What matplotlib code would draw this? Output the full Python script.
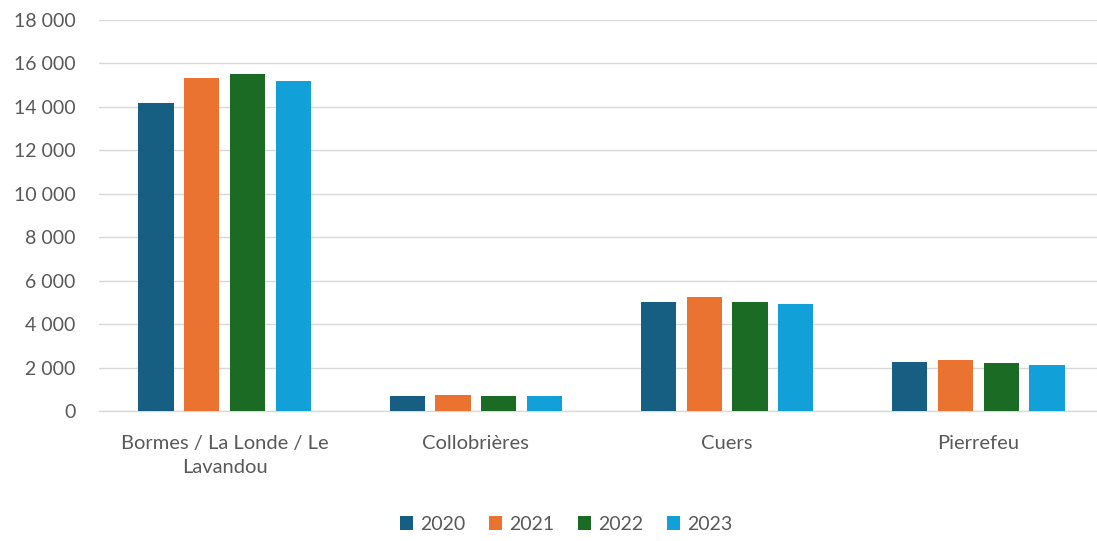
import matplotlib
matplotlib.use("Agg")
import matplotlib.pyplot as plt
import numpy as np
from matplotlib.ticker import FuncFormatter

categories = ["Bormes / La Londe / Le\nLavandou", "Collobrières", "Cuers", "Pierrefeu"]
years = ["2020", "2021", "2022", "2023"]
v2020 = [14170, 700, 5020, 2240]
v2021 = [15350, 750, 5250, 2330]
v2022 = [15520, 700, 5030, 2190]
v2023 = [15180, 690, 4940, 2120]
series = [v2020, v2021, v2022, v2023]
colors = ["#175E83", "#EB7332", "#1B6B25", "#11A0D7"]
text_color = "#595959"

plt.rcParams['font.family'] = ['Lato', 'DejaVu Sans']

W, H = 1097, 541
fig = plt.figure(figsize=(W/100, H/100), dpi=100)
ax = fig.add_axes([99/W, 130/H, 1005/W, 391/H])

x = np.arange(len(categories))
bw = 0.141
step = 0.182
for i, (yr, vals, c) in enumerate(zip(years, series, colors)):
    ax.bar(x + (i - 1.5) * step, vals, width=bw, color=c, label=yr, zorder=3)

ax.set_xlim(-0.5, 3.5)
ax.set_ylim(0, 18000)
ax.set_yticks(np.arange(0, 18001, 2000))
ax.yaxis.set_major_formatter(FuncFormatter(lambda v, p: f"{int(v):,}".replace(",", " ")))
ax.grid(axis='y', color="#D9D9D9", linewidth=1, zorder=0)
for s in ['top', 'right', 'left']:
    ax.spines[s].set_visible(False)
ax.spines['bottom'].set_color("#D9D9D9")
ax.spines['bottom'].set_linewidth(1)
ax.set_xticks(x)
ax.set_xticklabels(categories, fontsize=14.5, color=text_color, linespacing=1.5)
ax.tick_params(axis='x', length=0, pad=17.5)
ax.tick_params(axis='y', length=0, pad=17, labelsize=14, labelcolor=text_color)

leg = fig.legend(loc='center', bbox_to_anchor=(566/W, 1 - 524/H), ncol=4, frameon=False,
                 fontsize=14, handlelength=0.7, handleheight=0.7, handletextpad=0.35,
                 columnspacing=1.2, labelcolor=text_color)

fig.savefig("out.png", dpi=100)
